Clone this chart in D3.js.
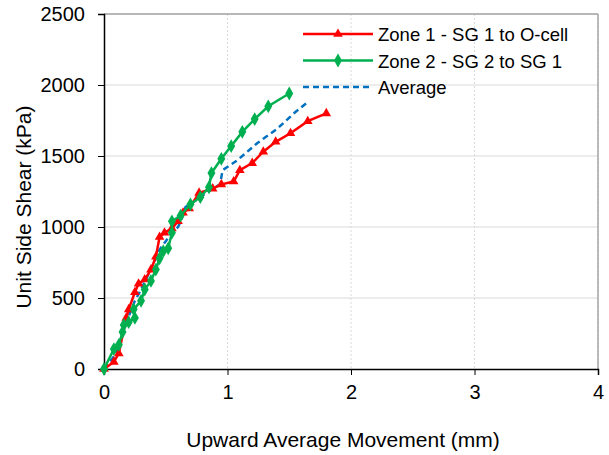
<!DOCTYPE html>
<html>
<head>
<meta charset="utf-8">
<script src="https://cdn.jsdelivr.net/npm/d3@7"></script>
<style>
  body { margin: 0; background: #fff; }
  text { font-family: "Liberation Sans", Arial, sans-serif; fill: #000; }
</style>
</head>
<body>
<div id="chart"></div>
<script>
// Zone 1 - SG 1 to O-cell  [movement mm, shear kPa]
const zone1 = [
  [0, 0], [0.08, 50], [0.12, 110], [0.18, 360], [0.2, 420], [0.25, 540], [0.28, 600],
  [0.33, 630], [0.38, 700], [0.42, 790], [0.45, 930], [0.49, 960], [0.55, 990],
  [0.6, 1040], [0.64, 1100], [0.69, 1130], [0.77, 1240], [0.88, 1270], [0.95, 1300],
  [1.05, 1320], [1.1, 1400], [1.2, 1450], [1.29, 1530], [1.39, 1600], [1.51, 1660],
  [1.65, 1745], [1.8, 1800]
];
// Zone 2 - SG 2 to SG 1
const zone2 = [
  [0, 0], [0.08, 140], [0.12, 170], [0.15, 260], [0.16, 310], [0.2, 330], [0.25, 360],
  [0.24, 420], [0.3, 480], [0.33, 560], [0.38, 620], [0.42, 700], [0.45, 780],
  [0.48, 830], [0.52, 850], [0.55, 960], [0.55, 1040], [0.62, 1080], [0.7, 1160],
  [0.78, 1210], [0.85, 1280], [0.87, 1380], [0.95, 1480], [1.03, 1570], [1.12, 1670],
  [1.22, 1760], [1.33, 1850], [1.5, 1940]
];
// Average
const average = [
  [0, 0], [0.1, 110], [0.15, 250], [0.2, 370], [0.25, 480], [0.3, 560], [0.35, 650],
  [0.4, 740], [0.45, 840], [0.5, 900], [0.55, 960], [0.6, 1000], [0.64, 1080],
  [0.66, 1140], [0.78, 1210], [0.88, 1270], [0.94, 1300], [0.96, 1400], [1.08, 1470],
  [1.24, 1590], [1.4, 1690], [1.55, 1810], [1.65, 1880]
];
const xTicks = [0, 1, 2, 3, 4];
const yTicks = [0, 500, 1000, 1500, 2000, 2500];
const seriesNames = ["Zone 1 - SG 1 to O-cell", "Zone 2 - SG 2 to SG 1", "Average"];

const W = 609, H = 455;
const margin = { top: 14, right: 11, bottom: 86, left: 104 };
const width = W - margin.left - margin.right;
const height = H - margin.top - margin.bottom;

const svg = d3.select("#chart").append("svg")
  .attr("width", W).attr("height", H);
const g = svg.append("g")
  .attr("transform", `translate(${margin.left},${margin.top})`);

const x = d3.scaleLinear().domain([0, 4]).range([0, width]);
const y = d3.scaleLinear().domain([0, 2500]).range([height, 0]);

// gridlines
g.selectAll(".hgrid").data(yTicks.slice(1)).enter().append("line")
  .attr("x1", 0).attr("x2", width)
  .attr("y1", d => y(d)).attr("y2", d => y(d))
  .attr("stroke", "#d9d9d9").attr("stroke-width", 1);
g.selectAll(".vgrid").data(xTicks.slice(1)).enter().append("line")
  .attr("x1", d => x(d)).attr("x2", d => x(d))
  .attr("y1", 0).attr("y2", height)
  .attr("stroke", "#d9d9d9").attr("stroke-width", 1)
  .attr("stroke-dasharray", "2,2");

// frame top/right
g.append("line").attr("x1", 0).attr("x2", width).attr("y1", 0).attr("y2", 0)
  .attr("stroke", "#a6a6a6").attr("stroke-width", 1.5);
g.append("line").attr("x1", width).attr("x2", width).attr("y1", 0).attr("y2", height)
  .attr("stroke", "#a6a6a6").attr("stroke-width", 1.5);

// axes
const xAxis = g.append("g").attr("transform", `translate(0,${height})`)
  .call(d3.axisBottom(x).tickValues(xTicks).tickSize(6).tickPadding(10).tickFormat(d3.format("d")));
const yAxis = g.append("g")
  .call(d3.axisLeft(y).tickValues(yTicks).tickSize(6).tickPadding(13).tickFormat(d3.format("d")));
[xAxis, yAxis].forEach(a => {
  a.select(".domain").attr("stroke", "#000").attr("stroke-width", 1.5);
  a.selectAll(".tick line").attr("stroke", "#000").attr("stroke-width", 1);
  a.selectAll(".tick text").style("font-size", "20px")
    .style("font-family", "'Liberation Sans', Arial, sans-serif");
});

const line = d3.line().x(d => x(d[0])).y(d => y(d[1]));

// series
g.append("path").datum(average).attr("d", line)
  .attr("fill", "none").attr("stroke", "#0070C0").attr("stroke-width", 2.5)
  .attr("stroke-dasharray", "6,4");

g.append("path").datum(zone1).attr("d", line)
  .attr("fill", "none").attr("stroke", "#FF0000").attr("stroke-width", 2.5);
g.selectAll(".m1").data(zone1).enter().append("path")
  .attr("d", d3.symbol().type(d3.symbolTriangle).size(40))
  .attr("transform", d => `translate(${x(d[0])},${y(d[1])})`)
  .attr("fill", "#FF0000");

g.append("path").datum(zone2).attr("d", line)
  .attr("fill", "none").attr("stroke", "#00B050").attr("stroke-width", 2.5);
g.selectAll(".m2").data(zone2).enter().append("path")
  .attr("d", d3.symbol().type(d3.symbolDiamond).size(55))
  .attr("transform", d => `translate(${x(d[0])},${y(d[1])})`)
  .attr("fill", "#00B050");

// legend
const legend = svg.append("g").attr("transform", "translate(303,34)");
const legendColors = ["#FF0000", "#00B050", "#0070C0"];
const legendSymbols = [d3.symbolTriangle, d3.symbolDiamond, null];
seriesNames.forEach((name, i) => {
  const row = legend.append("g").attr("transform", `translate(0,${i * 26.5})`);
  row.append("line").attr("x1", 0).attr("x2", 70).attr("y1", 0).attr("y2", 0)
    .attr("stroke", legendColors[i]).attr("stroke-width", 2.5)
    .attr("stroke-dasharray", i === 2 ? "6,4" : null);
  if (legendSymbols[i]) {
    row.append("path")
      .attr("d", d3.symbol().type(legendSymbols[i]).size(i === 0 ? 40 : 55))
      .attr("transform", "translate(35,0)")
      .attr("fill", legendColors[i]);
  }
  row.append("text").attr("x", 75).attr("y", 7)
    .style("font-size", "18.5px").text(name);
});

// axis titles
svg.append("text")
  .attr("x", 343).attr("y", 447)
  .attr("text-anchor", "middle").style("font-size", "21px")
  .text("Upward Average Movement (mm)");
svg.append("text")
  .attr("transform", "translate(31,207) rotate(-90)")
  .attr("text-anchor", "middle").style("font-size", "21px")
  .text("Unit Side Shear (kPa)");
</script>
</body>
</html>
